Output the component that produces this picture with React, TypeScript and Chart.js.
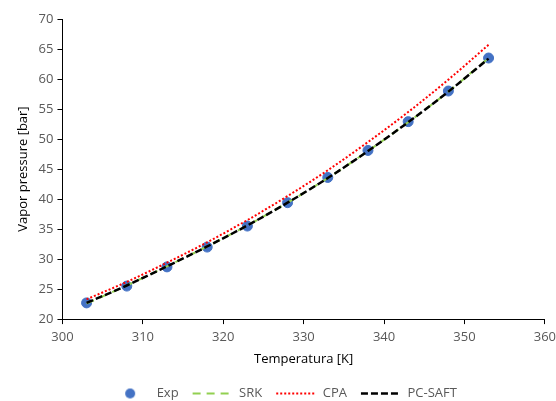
import React, { useEffect, useRef } from "react";
import { Chart, registerables } from "chart.js";
Chart.register(...registerables);

const temps = [303, 308, 313, 318, 323, 328, 333, 338, 343, 348, 353];
const expP = [22.7, 25.5, 28.7, 32.0, 35.5, 39.4, 43.6, 48.1, 52.9, 58.0, 63.5];
const srkP = [22.6, 25.6, 28.8, 32.1, 35.6, 39.4, 43.5, 48.0, 52.8, 57.9, 63.5];
const cpaP = [23.3, 26.2, 29.4, 32.8, 36.5, 40.5, 44.8, 49.5, 54.5, 59.9, 65.7];
const pcsaftP = [22.7, 25.6, 28.8, 32.1, 35.6, 39.4, 43.5, 48.0, 52.8, 57.9, 63.4];
const seriesNames = ["Exp", "SRK", "CPA", "PC-SAFT"];

const FONT = "'Open Sans', 'Noto Sans', sans-serif";

function circleImage(): HTMLCanvasElement {
  const c = document.createElement("canvas");
  c.width = 12;
  c.height = 12;
  const g = c.getContext("2d")!;
  g.fillStyle = "#4472C4";
  g.beginPath();
  g.arc(6, 6, 5, 0, Math.PI * 2);
  g.fill();
  return c;
}

export default function App() {
  const ref = useRef<HTMLCanvasElement>(null);
  useEffect(() => {
    const pts = (ys: number[]) => temps.map((t, i) => ({ x: t, y: ys[i] }));
    const img = circleImage();
    const legendStyles: any[] = [
      null,
      { color: "#92D050", width: 2, dash: [8, 6] },
      { color: "#FF0000", width: 2, dash: [2, 2] },
      { color: "#000000", width: 2.5, dash: [7, 3] },
    ];
    const chart = new Chart(ref.current!, {
      type: "scatter",
      data: {
        datasets: [
          {
            label: seriesNames[0],
            data: pts(expP),
            showLine: false,
            backgroundColor: "#4472C4",
            borderColor: "#4472C4",
            pointRadius: 5,
            pointHoverRadius: 5,
            order: 4,
          },
          {
            label: seriesNames[1],
            data: pts(srkP),
            showLine: true,
            borderColor: "#92D050",
            backgroundColor: "#92D050",
            borderWidth: 2,
            borderDash: [8, 6],
            pointRadius: 0,
            cubicInterpolationMode: "monotone",
            order: 3,
          },
          {
            label: seriesNames[2],
            data: pts(cpaP),
            showLine: true,
            borderColor: "#FF0000",
            backgroundColor: "#FF0000",
            borderWidth: 2,
            borderDash: [2, 2],
            pointRadius: 0,
            cubicInterpolationMode: "monotone",
            order: 2,
          },
          {
            label: seriesNames[3],
            data: pts(pcsaftP),
            showLine: true,
            borderColor: "#000000",
            backgroundColor: "#000000",
            borderWidth: 2.5,
            borderDash: [7, 3],
            pointRadius: 0,
            cubicInterpolationMode: "monotone",
            order: 1,
          },
        ],
      },
      options: {
        responsive: false,
        animation: false,
        layout: { padding: { top: 19, right: 0, left: 11, bottom: -9 } },
        plugins: {
          tooltip: { enabled: false },
          legend: {
            position: "bottom",
            labels: {
              usePointStyle: true,
              pointStyleWidth: 40,
              boxHeight: 12,
              padding: 14,
              color: "#595959",
              font: { family: FONT, size: 13 },
              generateLabels: (ch: any) => {
                const items = Chart.defaults.plugins.legend.labels.generateLabels(ch);
                items.sort((a: any, b: any) => a.datasetIndex - b.datasetIndex);
                return items.map((it: any) => {
                  const s = legendStyles[it.datasetIndex];
                  if (!s) {
                    it.pointStyle = img;
                  } else {
                    it.pointStyle = "line";
                    it.strokeStyle = s.color;
                    it.fillStyle = s.color;
                    it.lineWidth = s.width;
                    it.lineDash = s.dash;
                  }
                  return it;
                });
              },
            },
          },
        },
        scales: {
          x: {
            type: "linear",
            min: 300,
            max: 360,
            ticks: { stepSize: 10, color: "#595959", font: { family: FONT, size: 13, lineHeight: 2.1 }, padding: 0 },
            grid: { drawOnChartArea: false, drawTicks: true, tickLength: 5, color: "#000000" },
            border: { display: true, color: "#000000", width: 1 },
            title: { display: true, text: "Temperatura [K]", color: "#000000", font: { family: FONT, size: 13 }, padding: { top: 0, bottom: 6 } },
          },
          y: {
            type: "linear",
            min: 20,
            max: 70,
            ticks: { stepSize: 5, color: "#595959", font: { family: FONT, size: 13 }, padding: 4 },
            grid: { drawOnChartArea: false, drawTicks: true, tickLength: 5, color: "#000000" },
            border: { display: true, color: "#000000", width: 1 },
            title: { display: true, text: "Vapor pressure [bar]", color: "#000000", font: { family: FONT, size: 13 }, padding: { bottom: 4 } },
          },
        },
      },
    } as any);
    return () => chart.destroy();
  }, []);
  return (
    <div style={{ position: "absolute", left: 0, top: 0, width: 556, height: 401, background: "#fff" }}>
      <canvas ref={ref} width={556} height={401} />
    </div>
  );
}
